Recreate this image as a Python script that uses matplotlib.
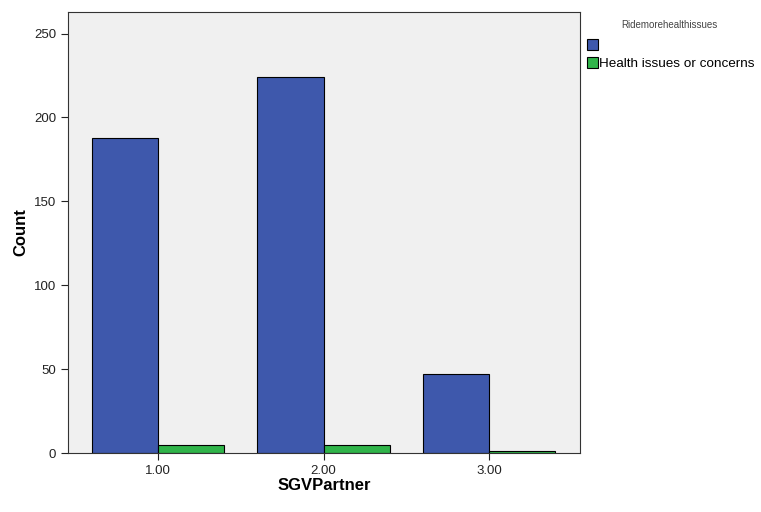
import matplotlib
matplotlib.use("Agg")
import matplotlib.pyplot as plt
import numpy as np

plt.rcParams['font.family'] = ['Liberation Sans', 'DejaVu Sans']

# data
categories = ["1.00", "2.00", "3.00"]
blank_counts = [188, 224, 47]
health_counts = [5, 5, 1]
legend_title = "Ridemorehealthissues"
series_names = ["", "Health issues or concerns"]

fig = plt.figure(figsize=(7.61, 5.12), dpi=100)
ax = fig.add_axes([0.0894, 0.115, 0.673, 0.862])
ax.set_facecolor("#f0f0f0")

x = np.arange(1, len(categories) + 1)
w = 0.4
b1 = ax.bar(x - w / 2, blank_counts, w, color="#3e58ac", edgecolor="black", linewidth=0.8)
b2 = ax.bar(x + w / 2, health_counts, w, color="#30b44a", edgecolor="black", linewidth=0.8)

ax.set_xlim(0.456, 3.55)
ax.set_ylim(0, 263)
ax.set_xticks(x)
ax.set_xticklabels(categories)
ax.set_yticks([0, 50, 100, 150, 200, 250])
ax.tick_params(labelsize=9.5, colors="#222222", length=5)
for s in ax.spines.values():
    s.set_color("#333333")

ax.set_xlabel("SGVPartner", fontsize=12, fontweight="bold", labelpad=1)
ax.set_ylabel("Count", fontsize=12, fontweight="bold", labelpad=4)

fig.text(0.879, 0.945, legend_title, fontsize=7, color="#444444", ha="center")
leg = fig.legend([b1, b2], series_names, loc="upper left", bbox_to_anchor=(0.764, 0.934),
                 frameon=False, fontsize=9.7, handlelength=0.85, handleheight=0.85,
                 handletextpad=0.05, labelspacing=0.35, borderaxespad=0)

fig.savefig("out.png", dpi=100)
